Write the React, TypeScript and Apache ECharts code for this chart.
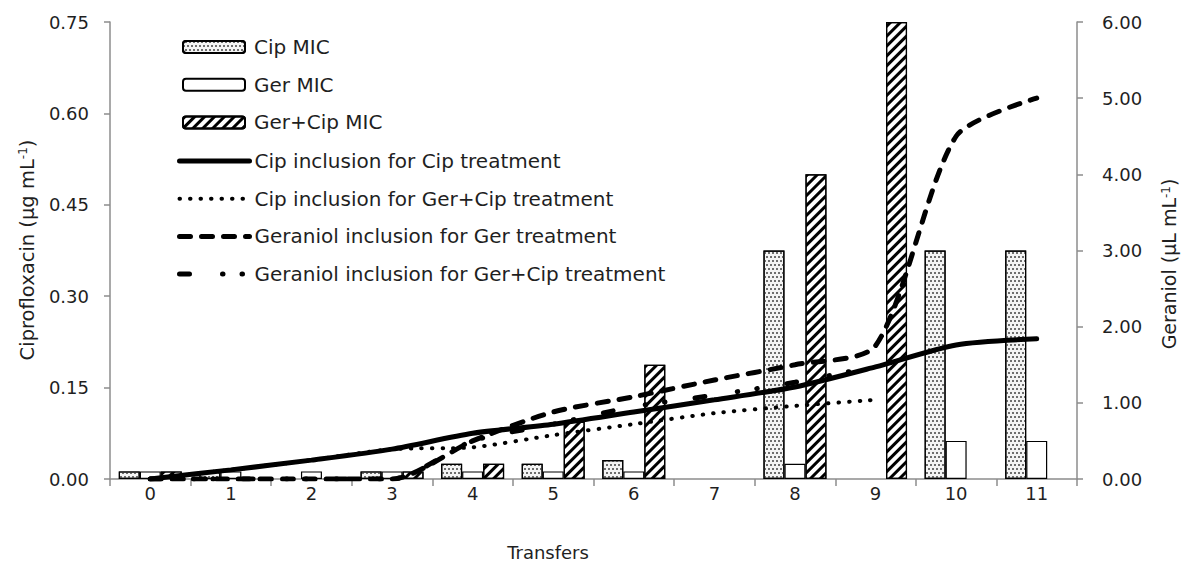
import React, { useEffect, useRef } from "react";
import * as echarts from "echarts";

// Transfer number along the x axis
const transfers = ["0", "1", "2", "3", "4", "5", "6", "7", "8", "9", "10", "11"];

// MIC bars: ciprofloxacin (µg/mL, left axis), geraniol (µL/mL, right axis), combination (left axis)
const cipMic = [0.0125, 0.0125, null, 0.0125, 0.025, 0.025, 0.03125, null, 0.375, null, 0.375, 0.375];
const gerMic = [0.1, 0.1, 0.1, 0.1, 0.1, 0.1, 0.1, null, 0.2, null, 0.5, 0.5];
const gerCipMic = [0.0125, null, null, 0.0125, 0.025, 0.09375, 0.1875, null, 0.5, 0.75, null, null];

// Inclusion concentrations over the transfers
const cipInclusionCip = [0, 0.015, 0.031, 0.049, 0.075, 0.09, 0.11, 0.13, 0.151, 0.184, 0.22, 0.23];
const cipInclusionGerCip = [0, 0.015, 0.031, 0.049, 0.052, 0.072, 0.09, 0.108, 0.12, 0.13];
const gerInclusionGer = [0, 0, 0, 0, 0.5, 0.88, 1.08, 1.3, 1.5, 1.75, 4.5, 5.0];
const gerInclusionGerCip = [0, 0, 0, 0, 0.5, 0.72, 0.95, 1.1, 1.27, 1.48];

// Axis ticks
const leftTicks = { min: 0, max: 0.75, interval: 0.15 };
const rightTicks = { min: 0, max: 6, interval: 1 };

const FONT = "DejaVu Sans";
const TEXT = "#1f1f1f";
const AXIS = "#8c8c8c";

const stippleDecal = {
  symbol: "rect",
  symbolSize: 1,
  color: "#6e6e6e",
  dashArrayX: [[1.5, 1.5], [0, 1.5, 1.5, 0]],
  dashArrayY: [1.5, 1.5],
  rotation: 0,
};

const hatchDecal = {
  symbol: "rect",
  symbolSize: 1,
  color: "#000",
  dashArrayX: [1, 0],
  dashArrayY: [3, 4],
  rotation: -Math.PI / 4,
};

export default function App() {
  const ref = useRef<HTMLDivElement>(null);

  useEffect(() => {
    if (!ref.current) return;
    const chart = echarts.init(ref.current, null, { renderer: "svg" });

    const barBase = {
      type: "bar",
      barWidth: 21,
      barGap: "0%",
    };

    const lineBase = {
      type: "line",
      smooth: 0.25,
      symbol: "none",
      showSymbol: false,
      z: 5,
    };

    const legendText = { fontFamily: FONT, fontSize: 20, color: TEXT, lineHeight: 20 };
    const supStyle = { fontSize: 12, verticalAlign: "top", fontFamily: FONT, fill: TEXT };

    chart.setOption({
      animation: false,
      backgroundColor: "#fff",
      textStyle: { fontFamily: FONT },
      grid: { left: 110, right: 105, top: 22, bottom: 86, containLabel: false },
      legend: [
        {
          orient: "vertical",
          left: 182,
          top: 37,
          padding: 0,
          itemWidth: 62,
          itemHeight: 12,
          itemGap: 17.7,
          selectedMode: false,
          textStyle: { ...legendText, padding: [0, 0, 0, 4] },
          data: ["Cip MIC", "Ger MIC", "Ger+Cip MIC"],
        },
        {
          orient: "vertical",
          left: 177,
          top: 151,
          padding: 0,
          itemWidth: 70,
          itemHeight: 14,
          itemGap: 17.7,
          selectedMode: false,
          itemStyle: { color: "rgba(0,0,0,0)", borderWidth: 0, opacity: 0 },
          lineStyle: { width: "inherit" },
          textStyle: legendText,
          data: [
            "Cip inclusion for Cip treatment",
            "Cip inclusion for Ger+Cip treatment",
            "Geraniol inclusion for Ger treatment",
            "Geraniol inclusion for Ger+Cip treatment",
          ],
        },
      ],
      xAxis: {
        type: "category",
        data: transfers,
        boundaryGap: true,
        axisLine: { lineStyle: { color: AXIS, width: 1.5 } },
        axisTick: { show: true, interval: 0, length: 7, lineStyle: { color: AXIS, width: 1.5 } },
        axisLabel: { margin: 5, fontFamily: FONT, fontSize: 18, color: TEXT },
        splitLine: { show: false },
      },
      yAxis: [
        {
          type: "value",
          position: "left",
          ...leftTicks,
          axisLine: { show: true, lineStyle: { color: AXIS, width: 1.5 } },
          axisTick: { show: true, length: 6, lineStyle: { color: AXIS, width: 1.5 } },
          axisLabel: {
            margin: 21,
            fontFamily: FONT,
            fontSize: 18,
            color: TEXT,
            formatter: (v: number) => v.toFixed(2),
          },
          splitLine: { show: false },
        },
        {
          type: "value",
          position: "right",
          ...rightTicks,
          axisLine: { show: true, lineStyle: { color: AXIS, width: 1.5 } },
          axisTick: { show: true, length: 6, lineStyle: { color: AXIS, width: 1.5 } },
          axisLabel: {
            margin: 25,
            fontFamily: FONT,
            fontSize: 18,
            color: TEXT,
            formatter: (v: number) => v.toFixed(2),
          },
          splitLine: { show: false },
        },
      ],
      graphic: [
        {
          type: "text",
          x: 27,
          y: 250,
          rotation: Math.PI / 2,
          style: {
            text: "Ciprofloxacin (µg mL{sup|-1})",
            fontFamily: FONT,
            fontSize: 19.5,
            fill: TEXT,
            align: "center",
            verticalAlign: "middle",
            rich: { sup: supStyle },
          },
        },
        {
          type: "text",
          x: 1169,
          y: 264,
          rotation: Math.PI / 2,
          style: {
            text: "Geraniol (µL mL{sup|-1})",
            fontFamily: FONT,
            fontSize: 19,
            fill: TEXT,
            align: "center",
            verticalAlign: "middle",
            rich: { sup: supStyle },
          },
        },
        {
          type: "text",
          x: 548,
          y: 552,
          style: {
            text: "Transfers",
            fontFamily: FONT,
            fontSize: 18,
            fill: TEXT,
            align: "center",
            verticalAlign: "middle",
          },
        },
      ],
      series: [
        {
          ...barBase,
          name: "Cip MIC",
          yAxisIndex: 0,
          data: cipMic,
          itemStyle: { color: "#f4f4f4", borderColor: "#000", borderWidth: 1.2, decal: stippleDecal },
        },
        {
          ...barBase,
          name: "Ger MIC",
          yAxisIndex: 1,
          data: gerMic,
          itemStyle: { color: "#fff", borderColor: "#000", borderWidth: 1.2 },
        },
        {
          ...barBase,
          name: "Ger+Cip MIC",
          yAxisIndex: 0,
          data: gerCipMic,
          itemStyle: { color: "#fff", borderColor: "#000", borderWidth: 1.2, decal: hatchDecal },
        },
        {
          ...lineBase,
          name: "Cip inclusion for Cip treatment",
          yAxisIndex: 0,
          data: cipInclusionCip,
          itemStyle: { color: "#000" },
          lineStyle: { color: "#000", width: 5, cap: "round" },
        },
        {
          ...lineBase,
          name: "Cip inclusion for Ger+Cip treatment",
          yAxisIndex: 0,
          data: cipInclusionGerCip,
          itemStyle: { color: "#000" },
          lineStyle: { color: "#000", width: 4, type: [0.5, 10], cap: "round" },
        },
        {
          ...lineBase,
          name: "Geraniol inclusion for Ger treatment",
          yAxisIndex: 1,
          data: gerInclusionGer,
          itemStyle: { color: "#000" },
          lineStyle: { color: "#000", width: 5, type: [11, 11], cap: "round" },
        },
        {
          ...lineBase,
          name: "Geraniol inclusion for Ger+Cip treatment",
          yAxisIndex: 1,
          data: gerInclusionGerCip,
          itemStyle: { color: "#000" },
          lineStyle: { color: "#000", width: 5, type: [10, 33, 0.5, 19, 0.5, 30], cap: "round" },
        },
      ],
    });

    return () => chart.dispose();
  }, []);

  return (
    <div
      ref={ref}
      style={{ position: "fixed", left: 0, top: 0, width: 1182, height: 565, background: "#fff" }}
    />
  );
}
